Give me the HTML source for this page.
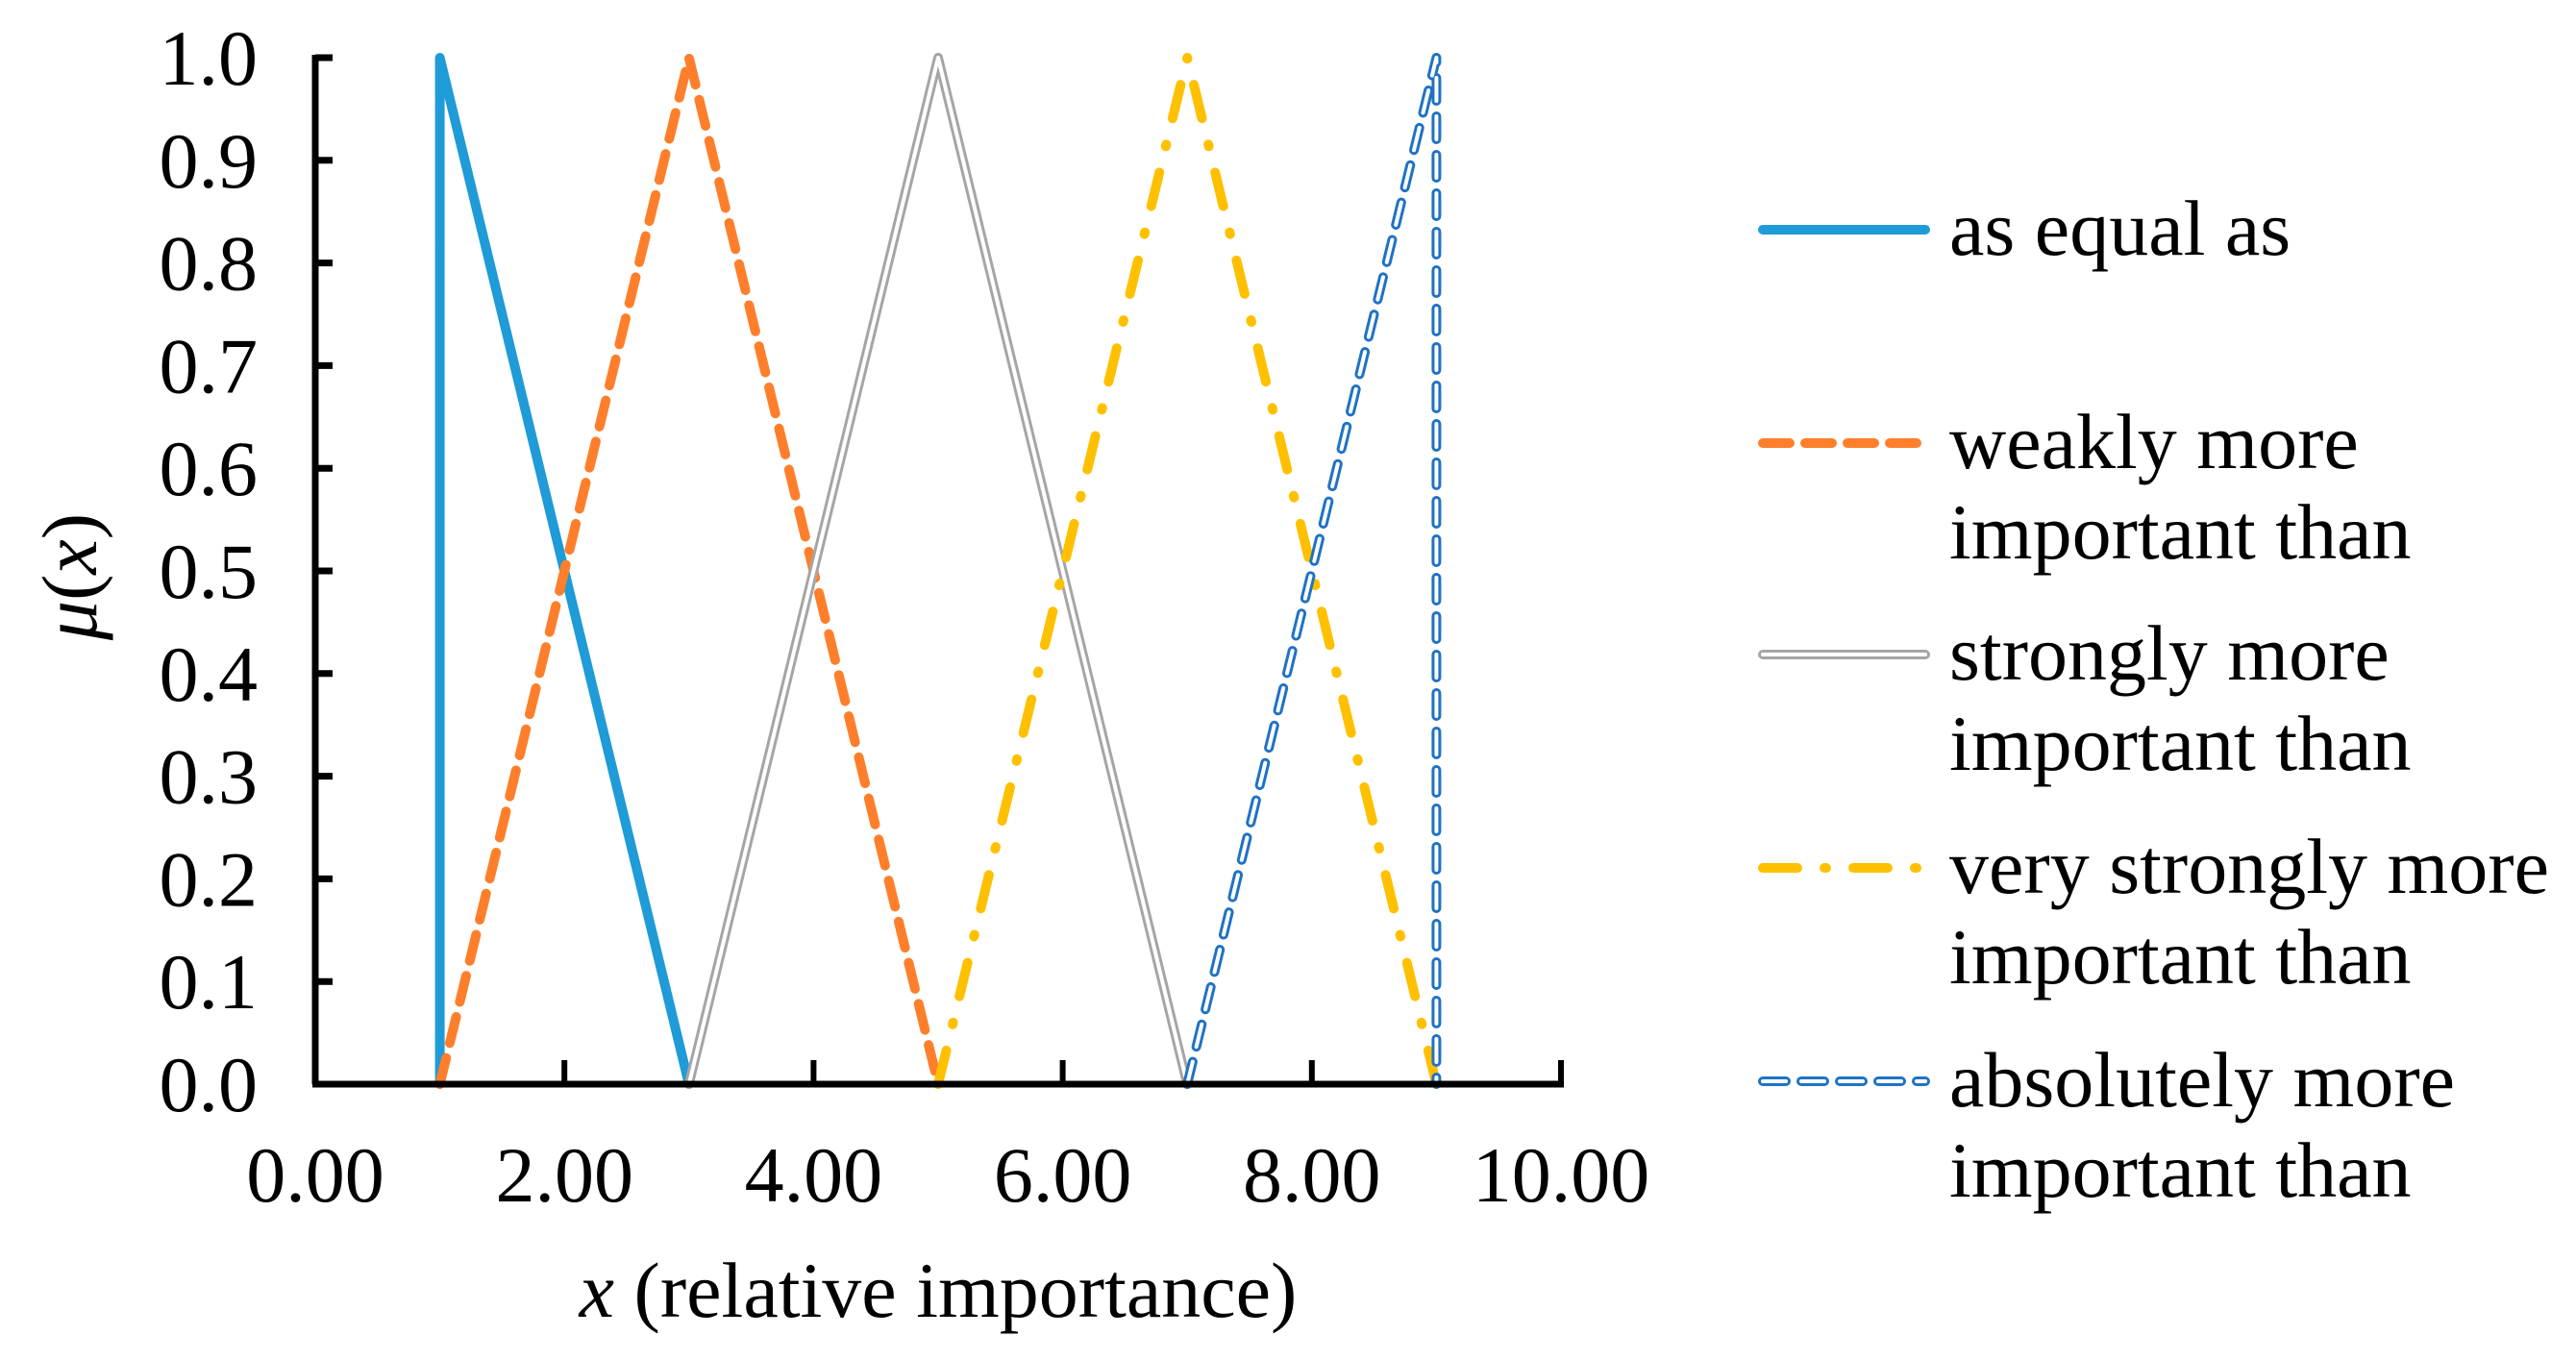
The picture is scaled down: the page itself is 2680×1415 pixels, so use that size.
<!DOCTYPE html>
<html><head><meta charset="utf-8"><style>
html,body{margin:0;padding:0;background:#fff;}
svg text{font-family:"Liberation Serif",serif;fill:#000;}
</style></head><body>
<svg id="chart" width="2680" height="1410" viewBox="0 0 2680 1410" xmlns="http://www.w3.org/2000/svg">
<g id="plot"></g>
<g id="legend"></g>
</svg>
<script>
const xTicks = [0, 2, 4, 6, 8, 10];
const xTickLabels = ["0.00", "2.00", "4.00", "6.00", "8.00", "10.00"];
const yTicks = [0, 0.1, 0.2, 0.3, 0.4, 0.5, 0.6, 0.7, 0.8, 0.9, 1.0];
const yTickLabels = ["0.0","0.1","0.2","0.3","0.4","0.5","0.6","0.7","0.8","0.9","1.0"];
const seriesNames = ["as equal as", "weakly more|important than", "strongly more|important than", "very strongly more|important than", "absolutely more|important than"];
const equalX = [1, 1, 3];
const equalY = [0, 1, 0];
const weaklyX = [1, 3, 5];
const weaklyY = [0, 1, 0];
const stronglyX = [3, 5, 7];
const stronglyY = [0, 1, 0];
const veryX = [5, 7, 9];
const veryY = [0, 1, 0];
const absX = [7, 9, 9];
const absY = [0, 1, 0];

const NS = "http://www.w3.org/2000/svg";
const X0 = 328, X1 = 1624, Y0 = 1128, Y1 = 60;
function sx(v){ return X0 + (v - 0) / 10 * (X1 - X0); }
function sy(v){ return Y0 - v * (Y0 - Y1); }
function mk(tag, attrs, parent){
  const e = document.createElementNS(NS, tag);
  for (const k in attrs) e.setAttribute(k, attrs[k]);
  parent.appendChild(e);
  return e;
}
const plot = document.getElementById("plot");
const legend = document.getElementById("legend");

const styles = [
  {layers:[{stroke:"#1f9bd7", w:10, dash:null}]},
  {layers:[{stroke:"#fe7f2b", w:10, dash:"28 16", cap:"round"}]},
  {layers:[{stroke:"#a5a5a5", w:10, dash:null},{stroke:"#ffffff", w:4, dash:null}]},
  {layers:[{stroke:"#ffc000", w:10, dash:"36 28 2 28", cap:"round"}]},
  {layers:[{stroke:"#1f72c4", w:10, dash:"24 16", cap:"round"},{stroke:"#ffffff", w:4, dash:"24 16", cap:"round"}]}
];
const data = [[equalX,equalY],[weaklyX,weaklyY],[stronglyX,stronglyY],[veryX,veryY],[absX,absY]];
const seriesKeys = ["series-as-equal-as","series-weakly-more","series-strongly-more","series-very-strongly-more","series-absolutely-more"];

data.forEach((d, i) => {
  const pts = d[0].map((x, j) => sx(x) + "," + sy(d[1][j])).join(" ");
  const g = mk("g", {}, plot);
  
  
  styles[i].layers.forEach(L => {
    const p = mk("polyline", {points: pts, fill:"none", stroke:L.stroke, "stroke-width":L.w, "stroke-linejoin":"round", "stroke-linecap":L.cap||"round"}, g);
    if (L.dash) p.setAttribute("stroke-dasharray", L.dash);
    
    
  });
});

const yAxis = mk("line", {x1:X0, y1:Y1-3, x2:X0, y2:Y0, stroke:"#000", "stroke-width":7}, plot);


const xAxis = mk("line", {x1:X0-3, y1:Y0, x2:X1+3, y2:Y0, stroke:"#000", "stroke-width":7}, plot);



yTicks.forEach((v, i) => {
  const t = mk("line", {x1:X0, y1:sy(v), x2:X0+18, y2:sy(v), stroke:"#000", "stroke-width":7}, plot);
  
  
  const l = mk("text", {x:268, y:sy(v)+28, "text-anchor":"end", "font-size":82}, plot);
  l.textContent = yTickLabels[i];
  
  
});
xTicks.forEach((v, i) => {
  const t = mk("line", {x1:sx(v), y1:Y0, x2:sx(v), y2:Y0-25, stroke:"#000", "stroke-width":6}, plot);
  
  
  const l = mk("text", {x:sx(v), y:1250, "text-anchor":"middle", "font-size":82}, plot);
  l.textContent = xTickLabels[i];
  
  
});

const xt = mk("text", {x:976, y:1370, "text-anchor":"middle", "font-size":82}, plot);
xt.innerHTML = '<tspan font-style="italic">x</tspan> (relative importance)';


const yt = mk("text", {x:0, y:0, "text-anchor":"middle", "font-size":82, transform:"translate(100,600) rotate(-90)"}, plot);
yt.innerHTML = '<tspan font-style="italic">μ</tspan>(<tspan font-style="italic">x</tspan>)';



const legY = [239, 461, 681, 903, 1125];
seriesNames.forEach((name, i) => {
  const g = mk("g", {}, legend);
  
  
  const y = legY[i];
  styles[i].layers.forEach(L => {
    const p = mk("line", {x1:1834, y1:y, x2:2003, y2:y, stroke:L.stroke, "stroke-width":L.w, "stroke-linecap":L.cap||"round"}, g);
    if (L.dash) p.setAttribute("stroke-dasharray", L.dash);
    
    
  });
  name.split("|").forEach((line, k) => {
    const t = mk("text", {x:2028, y:y + 26 + k*94, "font-size":82}, g);
    t.textContent = line;
    
    
  });
});
</script>
</body></html>
